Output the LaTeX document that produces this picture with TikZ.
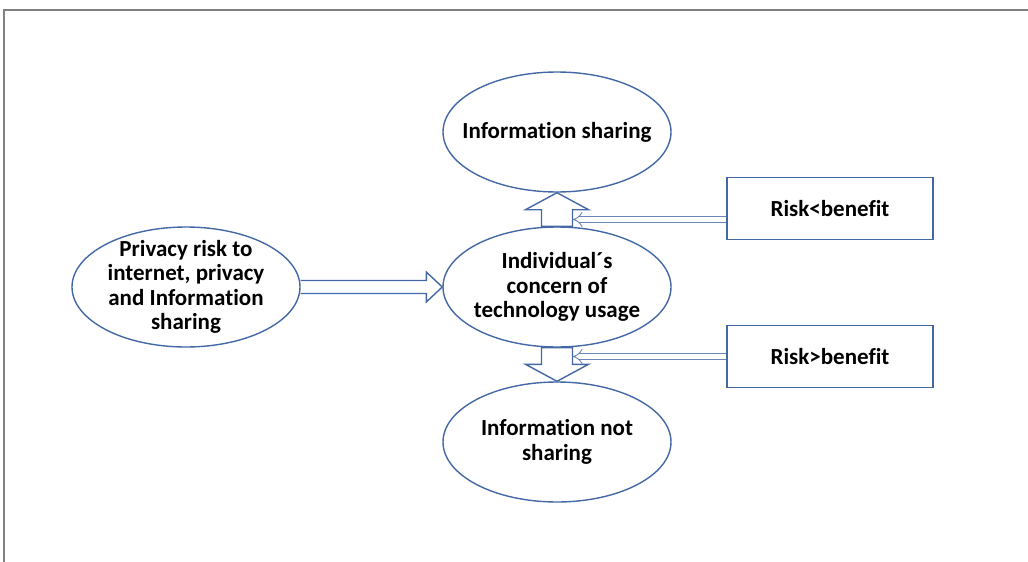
\documentclass[tikz,border=0pt]{standalone}
\usepackage{fontspec}
\setmainfont[Ligatures=NoCommon, Contextuals=NoAlternate]{Carlito}
\usetikzlibrary{shapes.geometric,arrows.meta,calc}
\definecolor{edgeblue}{RGB}{68,104,165}
\definecolor{framegray}{RGB}{128,128,128}

\begin{document}
\begin{tikzpicture}[x=1pt, y=1pt, node distance=155pt,
   every node/.style={font=\fontsize{23}{24.5}\selectfont\bfseries, align=center},
   blob/.style={ellipse, draw=edgeblue, line width=1.4pt, minimum width=228pt, minimum height=120pt, inner sep=-30pt},
   cond/.style={rectangle, draw=edgeblue, line width=1.2pt, minimum width=206pt, minimum height=62pt},
   hollow/.style={draw=edgeblue, line width=1.4pt, line join=miter},
   feed/.style={draw=edgeblue!80, double=white, double distance=4.5pt, line width=0.9pt, -Implies}]
   \useasboundingbox (0,0) rectangle (1028,-562);
   % frame
   \draw[framegray, line width=1.5pt] (4,-562) -- (4,-10) -- (1028,-10);
   % ellipses
   \node[blob] (mid) at (557,-287)          {Individual´s\\concern of\\technology usage};
   \node[blob] (share)   [above of=mid]     {Information sharing};
   \node[blob] (noshare) [below of=mid]     {Information not\\sharing};
   \node[blob] (risk)    [left of=mid, node distance=371pt] {Privacy risk to\\internet, privacy\\and Information\\sharing};
   % conditions
   \node[cond] (less) at (830,-208.5) {Risk<benefit};
   \node[cond] (more) at (830,-356.5) {Risk>benefit};
   % block arrows
   \draw[hollow] ($(risk.east)+(0,6.5)$) -- ($(mid.west)+(-16,6.5)$) -- ($(mid.west)+(-16,15)$) -- (mid.west)
                 -- ($(mid.west)+(-16,-15)$) -- ($(mid.west)+(-16,-6.5)$) -- ($(risk.east)+(0,-6.5)$);
   \draw[hollow] ($(mid.north)+(-15.5,0)$) -- ($(share.south)+(-15.5,-17)$) -- ($(share.south)+(-31.5,-17)$) -- (share.south)
                 -- ($(share.south)+(31.5,-17)$) -- ($(share.south)+(15.5,-17)$) -- ($(mid.north)+(15.5,0)$) -- cycle;
   \draw[hollow] ($(mid.south)+(-15.5,0)$) -- ($(noshare.north)+(-15.5,17)$) -- ($(noshare.north)+(-31.5,17)$) -- (noshare.north)
                 -- ($(noshare.north)+(31.5,17)$) -- ($(noshare.north)+(15.5,17)$) -- ($(mid.south)+(15.5,0)$) -- cycle;
   % side inputs
   \coordinate (upedge)   at ($(mid.north)+(15.5,0)$);
   \coordinate (downedge) at ($(mid.south)+(15.5,0)$);
   \draw[feed] ([yshift=-11pt]less.west) -- ([yshift=-11pt]less.west -| upedge);
   \draw[feed] (more.west) -- (more.west -| downedge);
\end{tikzpicture}
\end{document}
